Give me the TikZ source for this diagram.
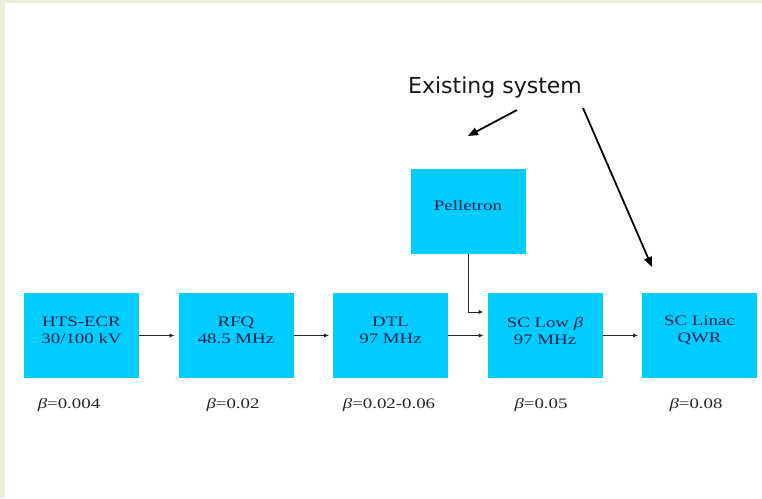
\documentclass[tikz,border=0pt]{standalone}
\usepackage{fontspec}
\setmainfont{Liberation Serif}
\newfontfamily\wideserif[FakeStretch=1.3]{Liberation Serif}
\newfontfamily\calloutsans{DejaVu Sans}
\usetikzlibrary{arrows.meta}
\definecolor{stagecyan}{RGB}{0,204,255}
\definecolor{stageink}{RGB}{25,35,80}
\definecolor{slideedge}{RGB}{233,239,218}

\begin{document}
\begin{tikzpicture}[x=1pt,y=-1pt,
  stage/.style={fill=stagecyan, minimum width=115pt, minimum height=85pt, inner sep=0pt, outer sep=0pt},
  stagetext/.style={font=\wideserif\fontsize{14.5}{17}\selectfont, text=stageink, align=center, inner sep=0pt},
  betatext/.style={font=\wideserif\fontsize{14.5}{17}\selectfont, text=black!85, inner sep=0pt},
  flow/.style={-{Latex[length=5pt,width=4.5pt]}, line width=1pt, black!85, shorten >=4pt},
  pointer/.style={-{Triangle[length=10pt,width=8pt]}, line width=1.8pt}]
  % slide frame
  \useasboundingbox (0,0) rectangle (762,498);
  \fill[slideedge] (0,0) rectangle (762,498);
  \fill[white] (5,3) rectangle (762,498);

  % accelerator chain
  \foreach \id/\cx/\txt/\bx/\bv in {ecr/81.5/{HTS-ECR\\30/100 kV}/69/0.004,
      rfq/236/{RFQ\\48.5 MHz}/233/0.02,
      dtl/390.5/{DTL\\97 MHz}/389/0.02-0.06,
      sclow/545/{SC Low {\itshape β}\\97 MHz}/541/0.05,
      linac/699.5/{SC Linac\\QWR}/696/0.08}{
    \node[stage] (\id) at (\cx,335.5) {};
    \node[stagetext] (\id-text) at ([yshift=5pt]\id.center) {\txt};
    \node[betatext] (\id-beta) at (\bx,405) {{\itshape β}=\bv};
  }
  \node[stage] (pell) at (468,211) {};
  \node[stagetext] (pell-text) at ([yshift=5pt]pell.center) {Pelletron};

  \foreach \a/\b in {ecr/rfq, rfq/dtl, dtl/sclow, sclow/linac}
    \draw[flow] (\a) -- (\b);
  \draw[flow] (pell.south) |- ([yshift=23.5pt]sclow.west);

  % callout
  \node[font=\calloutsans\fontsize{22}{26}\selectfont, text=black!90] (existing) at (495,87) {Existing system};
  \coordinate (taila) at (517,110);
  \coordinate (tipa) at (468,136);
  \coordinate (tailb) at (583,108);
  \coordinate (tipb) at (652,267);
  \draw[pointer] (taila) -- (tipa);
  \draw[pointer] (tailb) -- (tipb);
\end{tikzpicture}
\end{document}
